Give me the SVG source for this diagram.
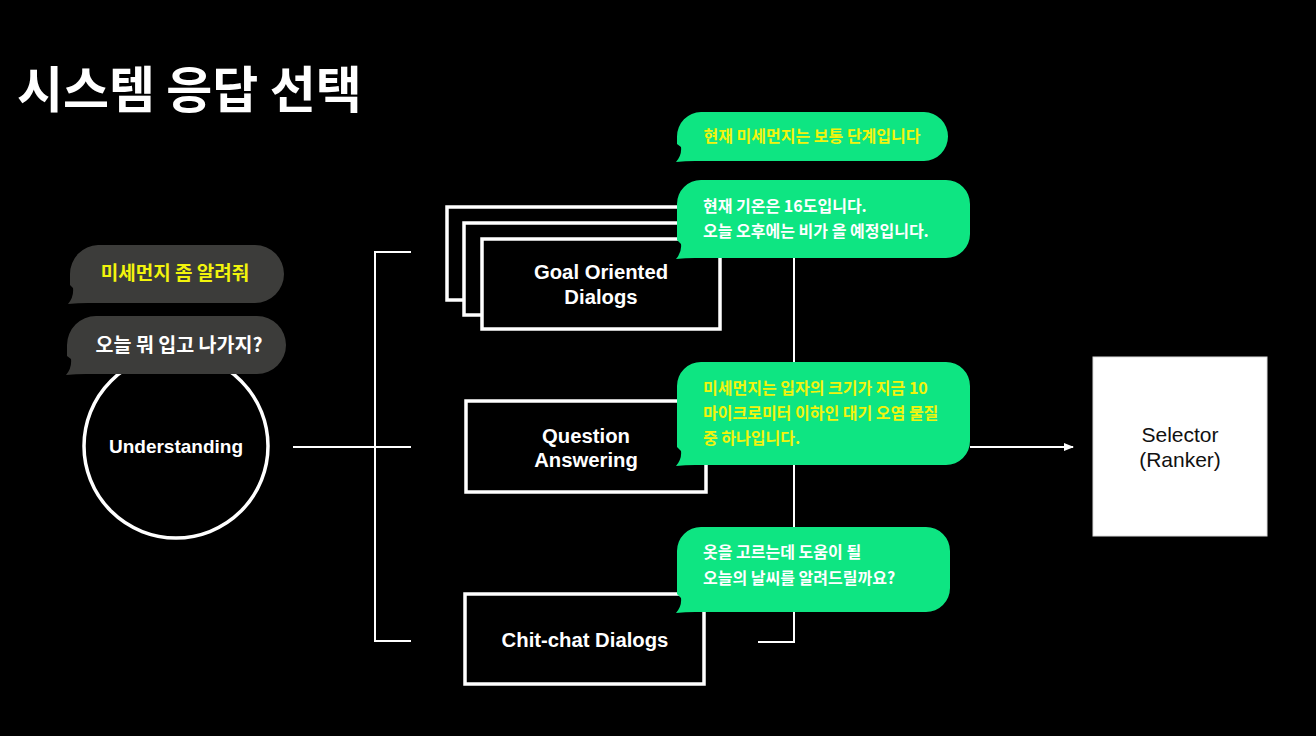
<svg xmlns="http://www.w3.org/2000/svg" width="1316" height="736" viewBox="0 0 1316 736">
<defs>
<style>
.ko{font-family:"Noto Sans CJK KR","Noto Sans",sans-serif;font-weight:700}
.en{font-family:"Liberation Sans",Arial,sans-serif;font-weight:700;fill:#fff;font-size:20.3px;text-anchor:middle}
.en.sm{font-size:19px}
.box{fill:#000;stroke:#fff;stroke-width:3.5}
.line{stroke:#fff;stroke-width:2;fill:none}
.green{fill:#0ee582}
.gray{fill:#3c3c3a}
.yel{fill:#f2f40c}
.wht{fill:#fff}
.gt{font-size:16px}
</style>
<marker id="arrow" viewBox="0 0 10 10" refX="9" refY="5" markerWidth="10" markerHeight="10" markerUnits="userSpaceOnUse" orient="auto">
<path d="M0,1 L10,5 L0,9 Z" fill="#fff"/>
</marker>
</defs>
<rect width="1316" height="736" fill="#000"/>

<text class="ko" x="17" y="108" font-size="50" fill="#fff">시스템 응답 선택</text>

<g id="connectors">
<path class="line" d="M411,252 H375 V641 H411"/>
<path class="line" d="M293,447 H411"/>
<path class="line" d="M794,258 V642 H758"/>
<path class="line" d="M970,447 H1073" marker-end="url(#arrow)"/>
</g>

<g id="understanding">
<circle cx="176" cy="446" r="92" fill="#000" stroke="#fff" stroke-width="3.5"/>
<text class="en sm" x="176" y="453">Understanding</text>
</g>

<g id="user-bubble-1">
<path class="gray" d="M98,245 H255 A29,29 0 0 1 284,274 A29,29 0 0 1 255,303 H88 Q78,303 68,304 Q74,297 73,288 L70,285 V274 A29,29 0 0 1 98,245 Z"/>
<text class="ko yel" x="175" y="280" font-size="19" text-anchor="middle">미세먼지 좀 알려줘</text>
</g>

<g id="user-bubble-2">
<path class="gray" d="M96,316 H257 A29,29 0 0 1 286,345 A29,29 0 0 1 257,374 H86 Q76,374 66,375 Q72,368 71,359 L67,356 V345 A29,29 0 0 1 96,316 Z"/>
<text class="ko wht" x="179" y="352" font-size="19.5" text-anchor="middle">오늘 뭐 입고 나가지?</text>
</g>

<g id="goal-oriented">
<rect class="box" x="447" y="207" width="253" height="93"/>
<rect class="box" x="464" y="223" width="246" height="92"/>
<rect class="box" x="482" y="239" width="238" height="90"/>
<text class="en" x="601" y="279">Goal Oriented</text>
<text class="en" x="601" y="304">Dialogs</text>
</g>

<g id="question-answering">
<rect class="box" x="466" y="401" width="240" height="91"/>
<text class="en" x="586" y="443">Question</text>
<text class="en" x="586" y="467">Answering</text>
</g>

<g id="chit-chat">
<rect class="box" x="465" y="594" width="239" height="90"/>
<text class="en" x="585" y="647">Chit-chat Dialogs</text>
</g>

<g id="selector">
<rect x="1093" y="357" width="174" height="179" fill="#fff" stroke="#ddd" stroke-width="1"/>
<text x="1180" y="442" font-family="Liberation Sans, Arial, sans-serif" font-size="21" text-anchor="middle" fill="#111">Selector</text>
<text x="1180" y="467" font-family="Liberation Sans, Arial, sans-serif" font-size="21" text-anchor="middle" fill="#111">(Ranker)</text>
</g>

<g id="reply-goal-1">
<path class="green" d="M701,112 H924 A24.5,24.5 0 0 1 948,136.5 A24.5,24.5 0 0 1 924,161 H695 Q685,161 676,162 Q682,155 681,147 L677,144 V136.5 A24.5,24.5 0 0 1 701,112 Z"/>
<text class="ko yel gt" x="812" y="142" text-anchor="middle">현재 미세먼지는 보통 단계입니다</text>
</g>

<g id="reply-goal-2">
<path class="green" d="M701,180 H946 A24,24 0 0 1 970,204 V234 A24,24 0 0 1 946,258 H695 Q685,258 676,259 Q682,252 681,244 L677,240 V204 A24,24 0 0 1 701,180 Z"/>
<text class="ko wht gt" x="703" y="212">현재 기온은 16도입니다.</text>
<text class="ko wht gt" x="703" y="237">오늘 오후에는 비가 올 예정입니다.</text>
</g>

<g id="reply-qa">
<path class="green" d="M701,362 H946 A24,24 0 0 1 970,386 V441 A24,24 0 0 1 946,465 H695 Q685,465 676,466 Q682,459 681,451 L677,447 V386 A24,24 0 0 1 701,362 Z"/>
<text class="ko yel gt" x="703" y="394">미세먼지는 입자의 크기가 지금 10</text>
<text class="ko yel gt" x="703" y="419">마이크로미터 이하인 대기 오염 물질</text>
<text class="ko yel gt" x="703" y="444">중 하나입니다.</text>
</g>

<g id="reply-chit">
<path class="green" d="M701,527 H926 A24,24 0 0 1 950,551 V588 A24,24 0 0 1 926,612 H695 Q685,612 676,613 Q682,606 681,598 L677,594 V551 A24,24 0 0 1 701,527 Z"/>
<text class="ko wht gt" x="703" y="558">옷을 고르는데 도움이 될</text>
<text class="ko wht gt" x="703" y="584">오늘의 날씨를 알려드릴까요?</text>
</g>
</svg>
